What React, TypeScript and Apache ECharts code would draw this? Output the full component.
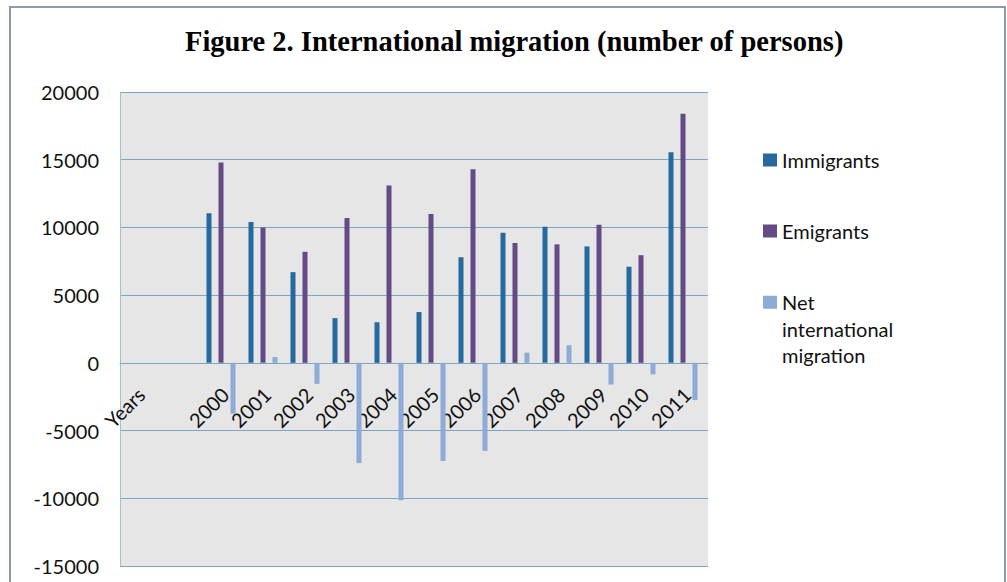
import React, { useEffect, useRef } from "react";
import * as echarts from "echarts";

const categories = ["Years", "", "2000", "2001", "2002", "2003", "2004", "2005", "2006", "2007", "2008", "2009", "2010", "2011"];
const immigrants = [null, null, 11050, 10400, 6700, 3300, 3000, 3750, 7800, 9600, 10050, 8600, 7100, 15560];
const emigrants = [null, null, 14800, 10000, 8200, 10700, 13100, 11000, 14300, 8850, 8750, 10200, 7950, 18400];
const netMigration = [null, null, -3750, 430, -1550, -7400, -10150, -7250, -6500, 750, 1300, -1600, -850, -2750];
const seriesNames = ["Immigrants", "Emigrants", "Net international migration"];
const yTicks = { min: -15000, max: 20000, interval: 5000 };

const COLORS = ["#26699f", "#634b85", "#8eaad6"];
const FONT = "Lato";
const GRID_COLOR = "#7aa6c2";
const GRID_TOP = 92;
const GRID_H = 474;

export default function App() {
  const ref = useRef<HTMLDivElement>(null);
  useEffect(() => {
    if (!ref.current) return;
    const chart = echarts.init(ref.current, null, { renderer: "svg" });
    const legendBase = {
      orient: "vertical" as const,
      left: 763,
      padding: 0,
      itemWidth: 14,
      itemHeight: 13,
      icon: "rect",
      textStyle: { fontFamily: FONT, fontSize: 20, color: "#111" },
    };
    // distance from grid bottom to the zero line
    const zeroOffset = (GRID_H * (0 - yTicks.min)) / (yTicks.max - yTicks.min);
    chart.setOption({
      animation: false,
      backgroundColor: "#ffffff",
      title: {
        text: "Figure 2. International migration (number of persons)",
        left: 180,
        top: 22,
        textStyle: { fontFamily: "Liberation Serif", fontWeight: "bold", fontSize: 28.5, color: "#000" },
      },
      legend: [
        { ...legendBase, top: 150, data: [seriesNames[0]] },
        { ...legendBase, top: 221, data: [seriesNames[1]] },
        {
          ...legendBase,
          top: 236,
          data: [seriesNames[2]],
          formatter: () => "\n\nNet\ninternational\nmigration",
          textStyle: { ...legendBase.textStyle, lineHeight: 26.5 },
        },
      ],
      graphic: [
        {
          type: "rect",
          shape: { x: 10, y: 7, width: 995, height: 600 },
          style: { fill: "none", stroke: "#8d9ca8", lineWidth: 2 },
          z: 100,
        },
      ],
      grid: {
        left: 120,
        top: GRID_TOP,
        width: 588,
        height: GRID_H,
        show: true,
        backgroundColor: "#e6e6e6",
        borderWidth: 0,
        containLabel: false,
        outerBoundsMode: "none",
      },
      xAxis: {
        type: "category",
        data: categories,
        offset: -zeroOffset,
        axisLine: { onZero: false, lineStyle: { color: GRID_COLOR, width: 1 } },
        axisTick: { show: false },
        axisLabel: {
          interval: 0,
          rotate: 45,
          margin: 28,
          fontFamily: FONT,
          fontSize: 20,
          color: "#111",
        },
        splitLine: { show: false },
      },
      yAxis: {
        type: "value",
        min: yTicks.min,
        max: yTicks.max,
        interval: yTicks.interval,
        axisLine: { show: true, lineStyle: { color: "#a9bccb", width: 1 } },
        axisTick: { show: false },
        axisLabel: { margin: 21, fontFamily: FONT, fontSize: 20, color: "#111", formatter: (v: number) => String(v) },
        splitLine: { show: true, lineStyle: { color: GRID_COLOR, width: 1 } },
      },
      series: [
        { name: seriesNames[0], type: "bar", data: immigrants, barWidth: 5, barGap: "140%", itemStyle: { color: COLORS[0] } },
        { name: seriesNames[1], type: "bar", data: emigrants, barWidth: 5, barGap: "140%", itemStyle: { color: COLORS[1] } },
        { name: seriesNames[2], type: "bar", data: netMigration, barWidth: 5, barGap: "140%", itemStyle: { color: COLORS[2] } },
        { name: "_spacer", type: "bar", data: [], barWidth: 1, barGap: "140%", silent: true },
      ],
    });
    return () => chart.dispose();
  }, []);
  return <div ref={ref} style={{ position: "absolute", left: 0, top: 0, width: 1007, height: 582 }} />;
}
